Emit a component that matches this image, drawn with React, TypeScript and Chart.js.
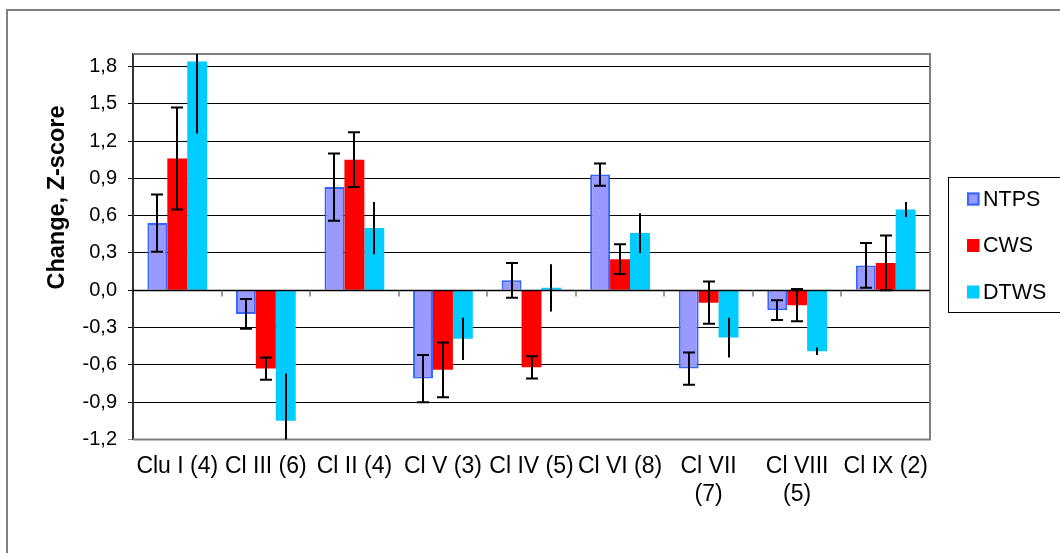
import React, { useEffect, useRef } from "react";
import { Chart, registerables } from "chart.js";

Chart.register(...registerables);

// Cluster categories (two-line labels where the name wraps)
const categories: (string | string[])[] = [
  "Clu I (4)",
  "Cl III (6)",
  "Cl II (4)",
  "Cl V (3)",
  "Cl IV (5)",
  "Cl VI (8)",
  ["Cl VII", "(7)"],
  ["Cl VIII", "(5)"],
  "Cl IX (2)",
];

const seriesNames = ["NTPS", "CWS", "DTWS"];

// Mean change (Z-score) per cluster
const ntps = [0.54, -0.19, 0.83, -0.71, 0.08, 0.93, -0.63, -0.16, 0.2];
const cws = [1.06, -0.63, 1.05, -0.64, -0.62, 0.25, -0.1, -0.12, 0.22];
const dtws = [1.84, -1.05, 0.5, -0.39, 0.02, 0.46, -0.38, -0.49, 0.65];

// Error bar half-lengths
const ntpsErr = [0.23, 0.12, 0.27, 0.19, 0.14, 0.09, 0.13, 0.08, 0.18];
const cwsErr = [0.41, 0.09, 0.22, 0.22, 0.09, 0.12, 0.17, 0.13, 0.22];
const dtwsErr = [0.58, 0.38, 0.21, 0.17, 0.19, 0.16, 0.16, 0.03, 0.06];

// Y axis tick values
const yTicks = [-1.2, -0.9, -0.6, -0.3, 0, 0.3, 0.6, 0.9, 1.2, 1.5, 1.8];

const FONT = "'Liberation Sans', Arial, sans-serif";

const errors = [ntpsErr, cwsErr, dtwsErr];
const withCaps = [true, true, false];

const errorBarPlugin = {
  id: "errorBars",
  afterDatasetsDraw(chart: any) {
    const { ctx, chartArea } = chart;
    const y = chart.scales.y;
    ctx.save();
    ctx.beginPath();
    ctx.rect(chartArea.left, chartArea.top, chartArea.right - chartArea.left, chartArea.bottom - chartArea.top);
    ctx.clip();
    ctx.strokeStyle = "#000";
    ctx.lineWidth = 2;
    chart.data.datasets.forEach((ds: any, di: number) => {
      const meta = chart.getDatasetMeta(di);
      meta.data.forEach((el: any, i: number) => {
        const v = ds.data[i];
        const e = errors[di][i];
        const y1 = y.getPixelForValue(v + e);
        const y2 = y.getPixelForValue(v - e);
        const x = Math.round(el.x);
        ctx.beginPath();
        ctx.moveTo(x, y1);
        ctx.lineTo(x, y2);
        if (withCaps[di]) {
          ctx.moveTo(x - 6, y1);
          ctx.lineTo(x + 6, y1);
          ctx.moveTo(x - 6, y2);
          ctx.lineTo(x + 6, y2);
        }
        ctx.stroke();
      });
    });
    ctx.restore();
  },
};

const framePlugin = {
  id: "frame",
  beforeDraw(chart: any) {
    const { ctx } = chart;
    ctx.save();
    ctx.fillStyle = "#fff";
    ctx.fillRect(0, 0, chart.width, chart.height);
    // outer chart border
    ctx.strokeStyle = "#808080";
    ctx.lineWidth = 2;
    ctx.beginPath();
    ctx.moveTo(7, chart.height + 2);
    ctx.lineTo(7, 10);
    ctx.lineTo(chart.width + 2, 10);
    ctx.stroke();
    ctx.restore();
  },
  afterDatasetsDraw(chart: any) {
    const { ctx, chartArea } = chart;
    const y = chart.scales.y;
    ctx.save();
    // plot area border (top, right, bottom)
    ctx.strokeStyle = "#808080";
    ctx.lineWidth = 2;
    ctx.beginPath();
    ctx.moveTo(chartArea.left, chartArea.top);
    ctx.lineTo(chartArea.right, chartArea.top);
    ctx.lineTo(chartArea.right, chartArea.bottom);
    ctx.lineTo(chartArea.left, chartArea.bottom);
    ctx.stroke();
    // zero line with category tick marks
    const y0 = Math.round(y.getPixelForValue(0)) + 0.5;
    ctx.strokeStyle = "#000";
    ctx.lineWidth = 1.5;
    ctx.beginPath();
    ctx.moveTo(chartArea.left, y0);
    ctx.lineTo(chartArea.right, y0);
    ctx.stroke();
    ctx.strokeStyle = "#777";
    ctx.lineWidth = 1.5;
    const n = categories.length;
    const w = (chartArea.right - chartArea.left) / n;
    for (let i = 1; i <= n; i++) {
      const bx = Math.round(chartArea.left + i * w);
      ctx.beginPath();
      ctx.moveTo(bx, y0);
      ctx.lineTo(bx, y0 + 6);
      ctx.stroke();
    }
    ctx.restore();
  },
  afterDraw(chart: any) {
    const { ctx } = chart;
    ctx.save();
    // axis title
    ctx.fillStyle = "#000";
    ctx.font = `bold 23.5px ${FONT}`;
    ctx.textAlign = "center";
    ctx.textBaseline = "alphabetic";
    ctx.translate(64, 197.5);
    ctx.rotate(-Math.PI / 2);
    ctx.fillText("Change, Z-score", 0, 0);
    ctx.restore();

    // legend
    ctx.save();
    ctx.strokeStyle = "#000";
    ctx.lineWidth = 1;
    ctx.strokeRect(948.5, 177.5, 130, 135);
    const rowY = [199, 245.5, 292];
    ctx.font = `21.5px ${FONT}`;
    ctx.textAlign = "left";
    ctx.textBaseline = "middle";
    chart.data.datasets.forEach((ds: any, i: number) => {
      const cy = rowY[i];
      ctx.fillStyle = ds.backgroundColor;
      ctx.fillRect(967, cy - 6.5, 12.5, 13);
      if (i === 0) {
        ctx.strokeStyle = ds.borderColor;
        ctx.lineWidth = 2;
        ctx.strokeRect(968, cy - 5.5, 10.5, 11);
      }
      ctx.fillStyle = "#000";
      ctx.fillText(ds.label, 983, cy + 1);
    });
    ctx.restore();
  },
};

export default function App() {
  const ref = useRef<HTMLCanvasElement | null>(null);

  useEffect(() => {
    if (!ref.current) return;
    const chart = new Chart(ref.current, {
      type: "bar",
      data: {
        labels: categories,
        datasets: [
          {
            label: seriesNames[0],
            data: ntps,
            backgroundColor: "#9999FF",
            borderColor: "#3366FF",
            borderWidth: 2,
          },
          {
            label: seriesNames[1],
            data: cws,
            backgroundColor: "#FF0000",
            borderColor: "#FF0000",
            borderWidth: 0,
          },
          {
            label: seriesNames[2],
            data: dtws,
            backgroundColor: "#00CCFF",
            borderColor: "#00CCFF",
            borderWidth: 0,
          },
        ],
      },
      options: {
        responsive: false,
        animation: false,
        devicePixelRatio: 1,
        layout: { padding: { left: 0, top: 54, right: 130, bottom: 0 } },
        datasets: {
          bar: { categoryPercentage: 0.675, barPercentage: 1 },
        },
        plugins: {
          legend: { display: false },
          tooltip: { enabled: false },
        },
        scales: {
          x: {
            grid: { display: false, drawTicks: false },
            border: { display: false },
            ticks: {
              color: "#000",
              font: { family: FONT, size: 23, lineHeight: 1.22 },
              maxRotation: 0,
              autoSkip: false,
              padding: 13,
            },
            afterFit(scale: any) {
              scale.height = 113.5;
            },
          },
          y: {
            min: -1.2,
            max: 1.9,
            afterBuildTicks(scale: any) {
              scale.ticks = yTicks.map((v) => ({ value: v }));
            },
            afterFit(scale: any) {
              scale.width = 133;
            },
            grid: {
              color: (c: any) => (c.tick && c.tick.value === -1.2 ? "#808080" : "#000"),
              lineWidth: 1,
              tickLength: 5,
              drawTicks: true,
            },
            border: { display: true, color: "#333", width: 2 },
            ticks: {
              color: "#000",
              font: { family: FONT, size: 20 },
              padding: 11,
              callback: (v: any) => Number(v).toFixed(1).replace(".", ","),
            },
          },
        },
      },
      plugins: [framePlugin, errorBarPlugin],
    });
    return () => chart.destroy();
  }, []);

  return (
    <div style={{ position: "absolute", left: 0, top: 0, width: 1060, height: 553 }}>
      <canvas ref={ref} width={1060} height={553} style={{ display: "block" }} />
    </div>
  );
}
